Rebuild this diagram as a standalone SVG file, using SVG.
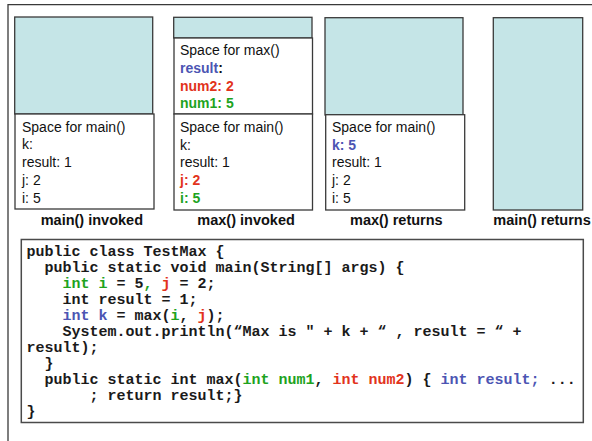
<svg xmlns="http://www.w3.org/2000/svg" width="592" height="441" viewBox="0 0 592 441">
  <style>
    .frame { fill: none; stroke: #3a3a3a; stroke-width: 1.3; }
    .free { fill: #c5e5e7; stroke: #3a3a3a; stroke-width: 1.3; }
    .slot { fill: #ffffff; stroke: #3a3a3a; stroke-width: 1.3; }
    .t { font-family: "Liberation Sans", Arial, sans-serif; font-size: 14px; fill: #111; }
    .b { font-weight: bold; }
    .cap { font-family: "Liberation Sans", Arial, sans-serif; font-size: 14.5px; font-weight: bold; fill: #111; }
    .code { font-family: "Liberation Mono", "Courier New", monospace; font-size: 15px; font-weight: bold; fill: #1a1a1a; white-space: pre; }
    .g { fill: #1ea31e; }
    .r { fill: #e2331c; }
    .u { fill: #4c55b3; }
  </style>

  <rect width="592" height="441" fill="#ffffff"/>
  <!-- page edges -->
  <path class="frame" d="M8 441 V4.7 H592"/>

  <!-- stack: main() invoked -->
  <g id="stack-main-invoked">
    <rect class="free" x="14.7" y="17" width="138" height="97"/>
    <rect class="slot" x="15" y="114" width="139" height="95"/>
    <text class="t" x="22" y="131.5">Space for main()</text>
    <text class="t" x="22" y="149.3">k:</text>
    <text class="t" x="22" y="167">result: 1</text>
    <text class="t" x="22" y="184.8">j: 2</text>
    <text class="t" x="22" y="202.5">i: 5</text>
    <text class="cap" x="40.7" y="225">main() invoked</text>
  </g>

  <!-- stack: max() invoked -->
  <g id="stack-max-invoked">
    <rect class="free" x="173.7" y="17.3" width="138.3" height="20.7"/>
    <rect class="slot" x="174" y="38" width="138.5" height="76"/>
    <rect class="slot" x="174" y="114" width="138.5" height="96"/>
    <text class="t" x="180" y="55">Space for max()</text>
    <text class="t b" x="180" y="72.7"><tspan class="u">result</tspan>:</text>
    <text class="t b r" x="180" y="90.5">num2: 2</text>
    <text class="t b g" x="180" y="108.2">num1: 5</text>
    <text class="t" x="180" y="131.7">Space for main()</text>
    <text class="t" x="180" y="149.5">k:</text>
    <text class="t" x="180" y="167.2">result: 1</text>
    <text class="t b r" x="180" y="185">j: 2</text>
    <text class="t b g" x="180" y="202.7">i: 5</text>
    <text class="cap" x="197.3" y="225">max() invoked</text>
  </g>

  <!-- stack: max() returns -->
  <g id="stack-max-returns">
    <rect class="free" x="325" y="17.7" width="138" height="97.3"/>
    <rect class="slot" x="325.7" y="114.7" width="139" height="95.3"/>
    <text class="t" x="332" y="131.7">Space for main()</text>
    <text class="t b u" x="332" y="149.5">k: 5</text>
    <text class="t" x="332" y="167.2">result: 1</text>
    <text class="t" x="332" y="185">j: 2</text>
    <text class="t" x="332" y="202.7">i: 5</text>
    <text class="cap" x="350" y="225">max() returns</text>
  </g>

  <!-- stack: main() returns -->
  <g id="stack-main-returns">
    <rect class="free" x="493.3" y="17.7" width="89.4" height="192.3"/>
    <text class="cap" x="493.3" y="225">main() returns</text>
  </g>

  <!-- source listing -->
  <g id="source">
    <rect class="slot" x="21.3" y="239.5" width="562" height="183" style="stroke:#4a4a4a;stroke-width:1.5"/>
    <text class="code" x="26.5" y="255.5">public class TestMax {</text>
    <text class="code" x="26.5" y="271.5">  public static void main(String[] args) {</text>
    <text class="code" x="26.5" y="287.5">    <tspan class="g">int i</tspan> = 5<tspan class="g">,</tspan> <tspan class="r">j</tspan> = 2;</text>
    <text class="code" x="26.5" y="303.5">    int result = 1;</text>
    <text class="code" x="26.5" y="319.5">    <tspan class="u">int k</tspan> = max(<tspan class="g">i</tspan>, <tspan class="r">j</tspan>);</text>
    <text class="code" x="26.5" y="335.5">    System.out.println(“Max is " + k + “ , result = “ +</text>
    <text class="code" x="26.5" y="351.5">result);</text>
    <text class="code" x="26.5" y="367.5">  }</text>
    <text class="code" x="26.5" y="383.5">  public static int max(<tspan class="g">int num1</tspan>, <tspan class="r">int num2</tspan>) { <tspan class="u">int result;</tspan> ...</text>
    <text class="code" x="26.5" y="399.5">       ; return result;}</text>
    <text class="code" x="26.5" y="415.5">}</text>
  </g>
</svg>
